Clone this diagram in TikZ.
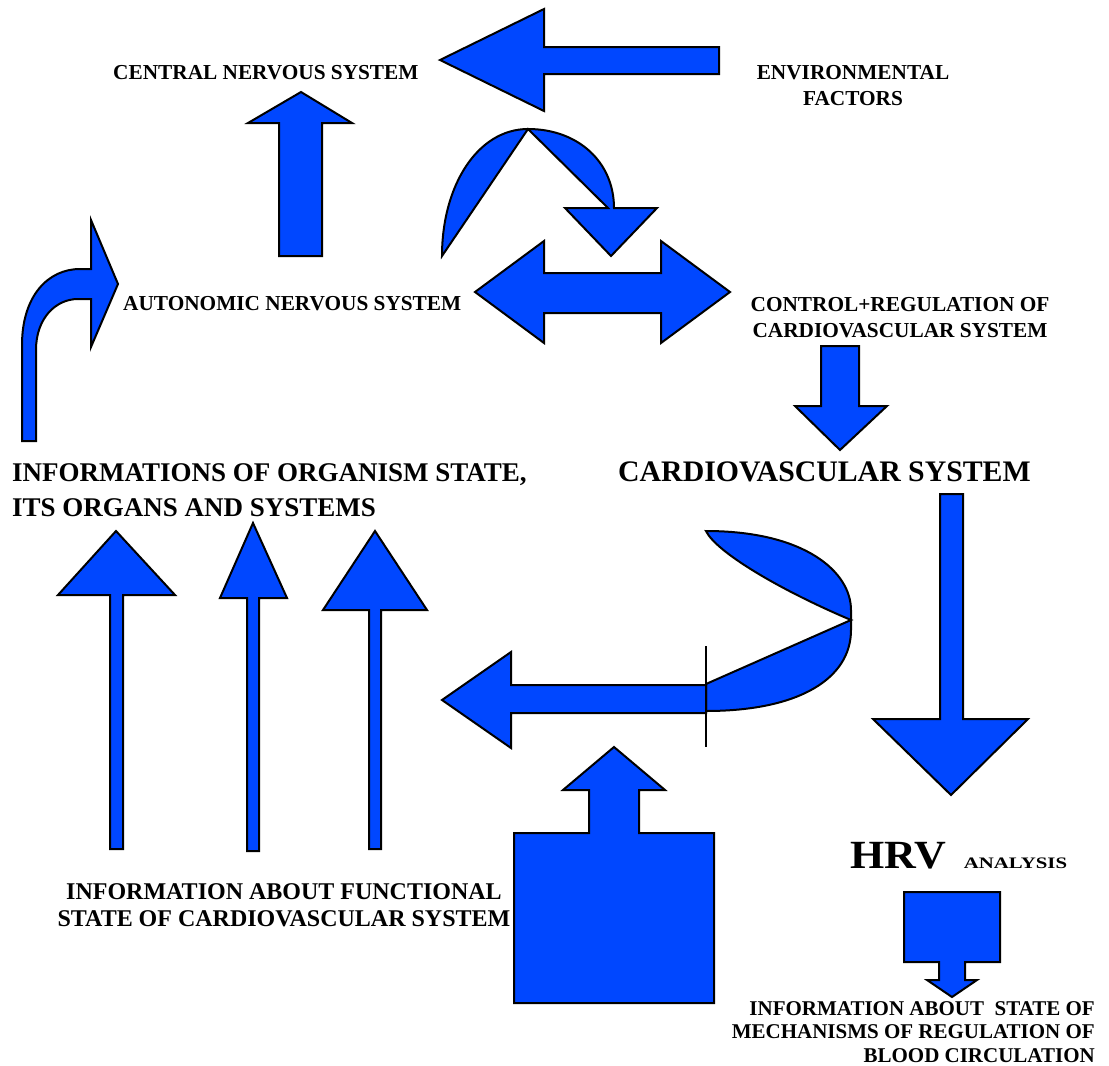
\documentclass[tikz,border=0pt]{standalone}
\usepackage{fontspec}
\setmainfont{Liberation Serif}
\definecolor{arrowblue}{RGB}{0, 71, 255}
\usetikzlibrary{positioning}

\begin{document}
\begin{tikzpicture}[x=1pt, y=-1pt,
  blockarrow/.style={draw=black, fill=arrowblue, line width=2pt, line join=miter},
  lbl/.style={inner sep=0pt, align=center, font=\bfseries\fontsize{21.3}{26}\selectfont}]
  \useasboundingbox (0,0) rectangle (1109,1066);

  % Labels (multi-line ones sit on the baseline of their last line)
  \node[lbl, anchor=base west] (cns) at (113,79) {CENTRAL NERVOUS SYSTEM};
  \node[lbl, anchor=base] (envfactors) at (853,105) {ENVIRONMENTAL\\FACTORS};
  \node[lbl, anchor=base west] (ans) at (123,310) {AUTONOMIC NERVOUS SYSTEM};
  \node[lbl, anchor=base] (control) at (900,337) {CONTROL+REGULATION OF\\CARDIOVASCULAR SYSTEM};
  \node[lbl, anchor=base west, align=left, font=\bfseries\fontsize{27}{35}\selectfont] (organism) at (12,516) {INFORMATIONS OF ORGANISM STATE,\\ITS ORGANS AND SYSTEMS};
  \node[lbl, anchor=base west, font=\bfseries\fontsize{29.8}{34}\selectfont] (cvsystem) at (618,481) {CARDIOVASCULAR SYSTEM};
  \node[lbl, anchor=base, font=\bfseries\fontsize{24}{27}\selectfont] (funcinfo) at (284,926) {INFORMATION ABOUT FUNCTIONAL\\STATE OF CARDIOVASCULAR SYSTEM};
  \node[lbl, anchor=base west, font=\bfseries\fontsize{40}{44}\selectfont] (hrv) at (850,868) {\scalebox{1.1}[1]{HRV}};
  \node[lbl, right=17pt of hrv.base east, anchor=base west, font=\bfseries\fontsize{16}{19}\selectfont] (analysis) {\scalebox{1.3}[1]{ANALYSIS}};
  \node[lbl, anchor=base east, align=right, font=\bfseries\fontsize{21}{23.5}\selectfont] (regulinfo) at (1095,1062) {INFORMATION ABOUT\ \ STATE OF\\MECHANISMS OF REGULATION OF\\BLOOD CIRCULATION};

  % Environment -> CNS
  \draw[blockarrow] (440,60) -- (544,9) -- (544,47) -- (719,47) -- (719,74) -- (544,74) -- (544,111) -- cycle;

  % ANS -> CNS
  \draw[blockarrow] (301,92) -- (352,123) -- (322,123) -- (322,256) -- (279,256) -- (279,123) -- (248,123) -- cycle;

  % Curved arrow over the top
  \draw[blockarrow] (442,256) .. controls (442,185) and (478,129) .. (528,129)
    .. controls (578,129) and (614,162) .. (614,208) -- (657,208) -- (611,256) -- (565,208) -- (608,208) -- (528,129) -- cycle;

  % ANS <-> control
  \draw[blockarrow] (475,292) -- (544,241) -- (544,273) -- (661,273) -- (661,241) -- (730,292) -- (661,343) -- (661,313) -- (544,313) -- (544,343) -- cycle;

  % Bent arrow into ANS
  \draw[blockarrow] (22,441) -- (22,345) .. controls (22,296) and (48,269) .. (80,269) -- (91,269) -- (91,220) -- (118,284) -- (91,347) -- (91,299) -- (78,299)
    .. controls (56,299) and (36,318) .. (36,350) -- (36,441) -- cycle;

  % Control -> cardiovascular system
  \draw[blockarrow] (821,346) -- (859,346) -- (859,406) -- (887,406) -- (840,450) -- (795,406) -- (821,406) -- cycle;

  % Cardiovascular system -> HRV
  \draw[blockarrow] (940,494) -- (963,494) -- (963,719) -- (1028,719) -- (951,795) -- (873,719) -- (940,719) -- cycle;

  % U-turn and arrow back to the left
  \draw[blockarrow] (706,531) .. controls (805,531) and (851,572) .. (851,610) -- (851,630)
    .. controls (851,678) and (800,711) .. (706,711) -- (706,684) -- (851,620) .. controls (780,590) and (716,552) .. (706,531) -- cycle;
  \draw[blockarrow] (442,700) -- (511,652) -- (511,685) -- (706,685) -- (706,713) -- (511,713) -- (511,748) -- cycle;
  \draw[line width=2pt] (706,646) -- (706,747);

  % Block arrow up
  \draw[blockarrow] (614,747) -- (665,790) -- (639,790) -- (639,833) -- (714,833) -- (714,1003) -- (514,1003) -- (514,833) -- (589,833) -- (589,790) -- (563,790) -- cycle;

  % HRV -> information
  \draw[blockarrow] (904,892) -- (1000,892) -- (1000,962) -- (965,962) -- (965,980) -- (977,980) -- (952,997) -- (927,980) -- (939,980) -- (939,962) -- (904,962) -- cycle;

  % Three arrows up
  \draw[blockarrow] (116,531) -- (175,595) -- (123,595) -- (123,849) -- (110,849) -- (110,595) -- (58,595) -- cycle;
  \draw[blockarrow] (253,523) -- (287,598) -- (259,598) -- (259,851) -- (247,851) -- (247,598) -- (220,598) -- cycle;
  \draw[blockarrow] (375,531) -- (427,610) -- (381,610) -- (381,849) -- (369,849) -- (369,610) -- (323,610) -- cycle;
\end{tikzpicture}
\end{document}
